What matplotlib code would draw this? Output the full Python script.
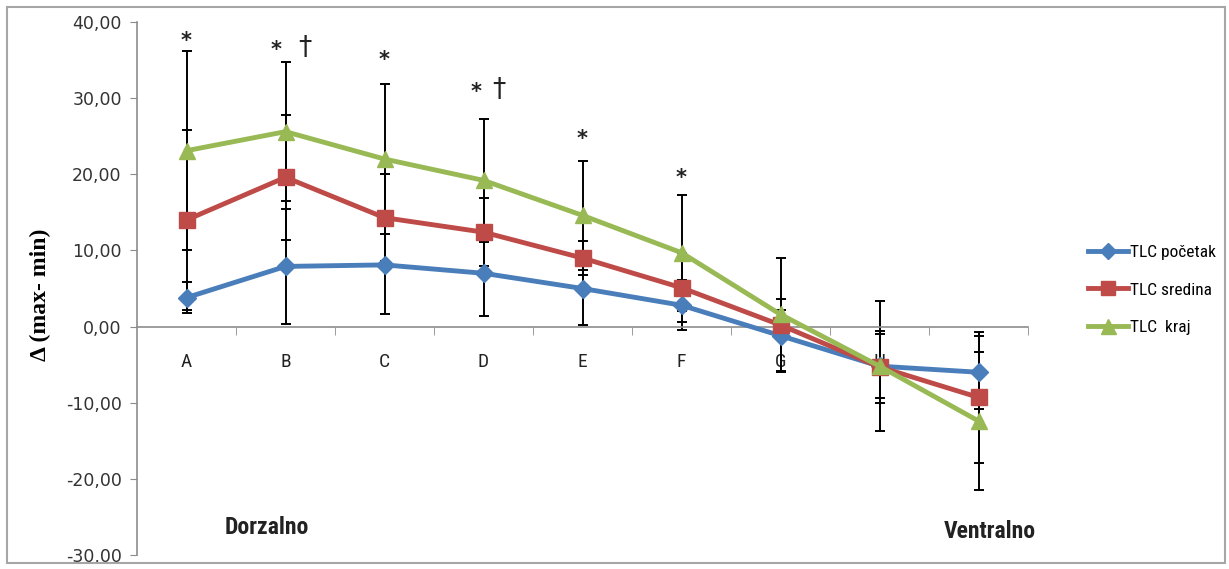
import numpy as np
import matplotlib.pyplot as plt
from matplotlib.patches import Rectangle
from matplotlib.ticker import FuncFormatter, FixedLocator

# categories along the dorsal -> ventral line (last one has no label)
categories = ["A", "B", "C", "D", "E", "F", "G", "H", ""]

series_names = ["TLC početak", "TLC sredina", "TLC  kraj"]

tlc_pocetak = [3.8, 7.9, 8.1, 7.0, 5.0, 2.8, -1.2, -5.2, -6.0]
tlc_sredina = [14.0, 19.6, 14.3, 12.4, 9.0, 5.1, 0.2, -5.3, -9.3]
tlc_kraj = [23.1, 25.6, 22.0, 19.2, 14.6, 9.7, 1.6, -5.2, -12.4]

err_pocetak = [2.0, 7.6, 6.4, 5.6, 4.8, 3.3, 4.8, 4.2, 4.8]
err_sredina = [11.8, 8.2, 5.7, 4.5, 2.2, 4.5, 2.0, 4.7, 8.6]
err_kraj = [13.1, 9.1, 9.8, 8.1, 7.2, 7.6, 7.4, 8.5, 9.1]

# significance marks: (category index, mark, height, x shift in categories)
sig_marks = [(0, "*", 37.5, 0.0),
             (1, "*", 36.3, -0.1), (1, "†", 36.6, 0.2),
             (2, "*", 35.0, 0.0),
             (3, "*", 30.8, -0.08), (3, "†", 31.1, 0.16),
             (4, "*", 24.6, 0.0),
             (5, "*", 19.5, 0.0)]

y_ticks = [-30, -20, -10, 0, 10, 20, 30, 40]

colors = ["#4A7EBB", "#BE4B48", "#98B954"]
markers = ["D", "s", "^"]
marker_sizes = [9, 11, 12]

narrow = ["Liberation Sans Narrow", "Roboto Condensed", "Liberation Sans", "DejaVu Sans"]

W, H = 1229, 569
fig = plt.figure(figsize=(W / 100, H / 100), dpi=100)
ax = fig.add_axes([137 / W, 1 - 555 / H, (1028 - 137) / W, (555 - 22) / H])

x = np.arange(len(categories)) + 0.5
values = [tlc_pocetak, tlc_sredina, tlc_kraj]
errors = [err_pocetak, err_sredina, err_kraj]

for vals, errs in zip(values, errors):
    ax.errorbar(x, vals, yerr=errs, fmt="none", ecolor="black",
                elinewidth=1.4, capsize=3.6, capthick=1.4, zorder=2)

handles = []
for vals, name, c, m, ms in zip(values, series_names, colors, markers, marker_sizes):
    h, = ax.plot(x, vals, color=c, lw=3.5, marker=m, ms=ms,
                 markeredgecolor=c, label=name, zorder=3)
    handles.append(h)

for i, mark, yv, dx in sig_marks:
    if mark == "*":
        ax.text(x[i] + dx, yv, mark, ha="center", va="center", fontsize=15,
                fontweight="bold", color="#222222", family=["DejaVu Sans"], zorder=4)
    else:
        ax.text(x[i] + dx, yv, mark, ha="center", va="center", fontsize=19,
                color="#222222", family=["DejaVu Sans"], zorder=4)

ax.set_xlim(0, len(categories))
ax.set_ylim(-30, 40)

for s in ["top", "right"]:
    ax.spines[s].set_visible(False)
ax.spines["bottom"].set_position(("data", 0))
for s in ["bottom", "left"]:
    ax.spines[s].set_color("#8c8c8c")
    ax.spines[s].set_linewidth(1.2)

ax.set_yticks(y_ticks)
ax.yaxis.set_major_formatter(FuncFormatter(lambda v, p: f"{v:.2f}".replace(".", ",")))
ax.tick_params(axis="y", direction="out", length=5, color="#8c8c8c",
               labelsize=12.5, labelcolor="#333333", pad=6)

ax.set_xticks(x)
ax.set_xticklabels(categories, fontsize=14, family=narrow, color="#222222")
ax.xaxis.set_minor_locator(FixedLocator(np.arange(1, len(categories) + 1)))
ax.tick_params(axis="x", which="major", length=0, pad=19)
ax.tick_params(axis="x", which="minor", direction="out", length=6, color="#8c8c8c")

fig.text(40 / W, 1 - 295 / H, "Δ (max- min)", rotation=90, ha="center", va="center",
         fontsize=17, fontweight="bold", family=["Liberation Serif", "DejaVu Serif"])

fig.text(267 / W, 1 - 527 / H, "Dorzalno", fontsize=17, fontweight="bold",
         family=narrow, ha="center", va="center", color="#222222")
fig.text(990 / W, 1 - 531 / H, "Ventralno", fontsize=17, fontweight="bold",
         family=narrow, ha="center", va="center", color="#222222")

fig.legend(handles=handles, loc="center left",
           bbox_to_anchor=(1072 / W, 1 - 290 / H), frameon=False,
           prop={"family": narrow, "size": 12.5}, handlelength=2.3,
           handletextpad=0.15, labelspacing=1.3, markerscale=0.9)

# outer chart frame
fig.patches.append(Rectangle((7 / W, 1 - 563 / H), 1218 / W, 556 / H,
                             transform=fig.transFigure, fill=False,
                             edgecolor="#a6a6a6", lw=1.5))

fig.savefig("out.png", dpi=100)
